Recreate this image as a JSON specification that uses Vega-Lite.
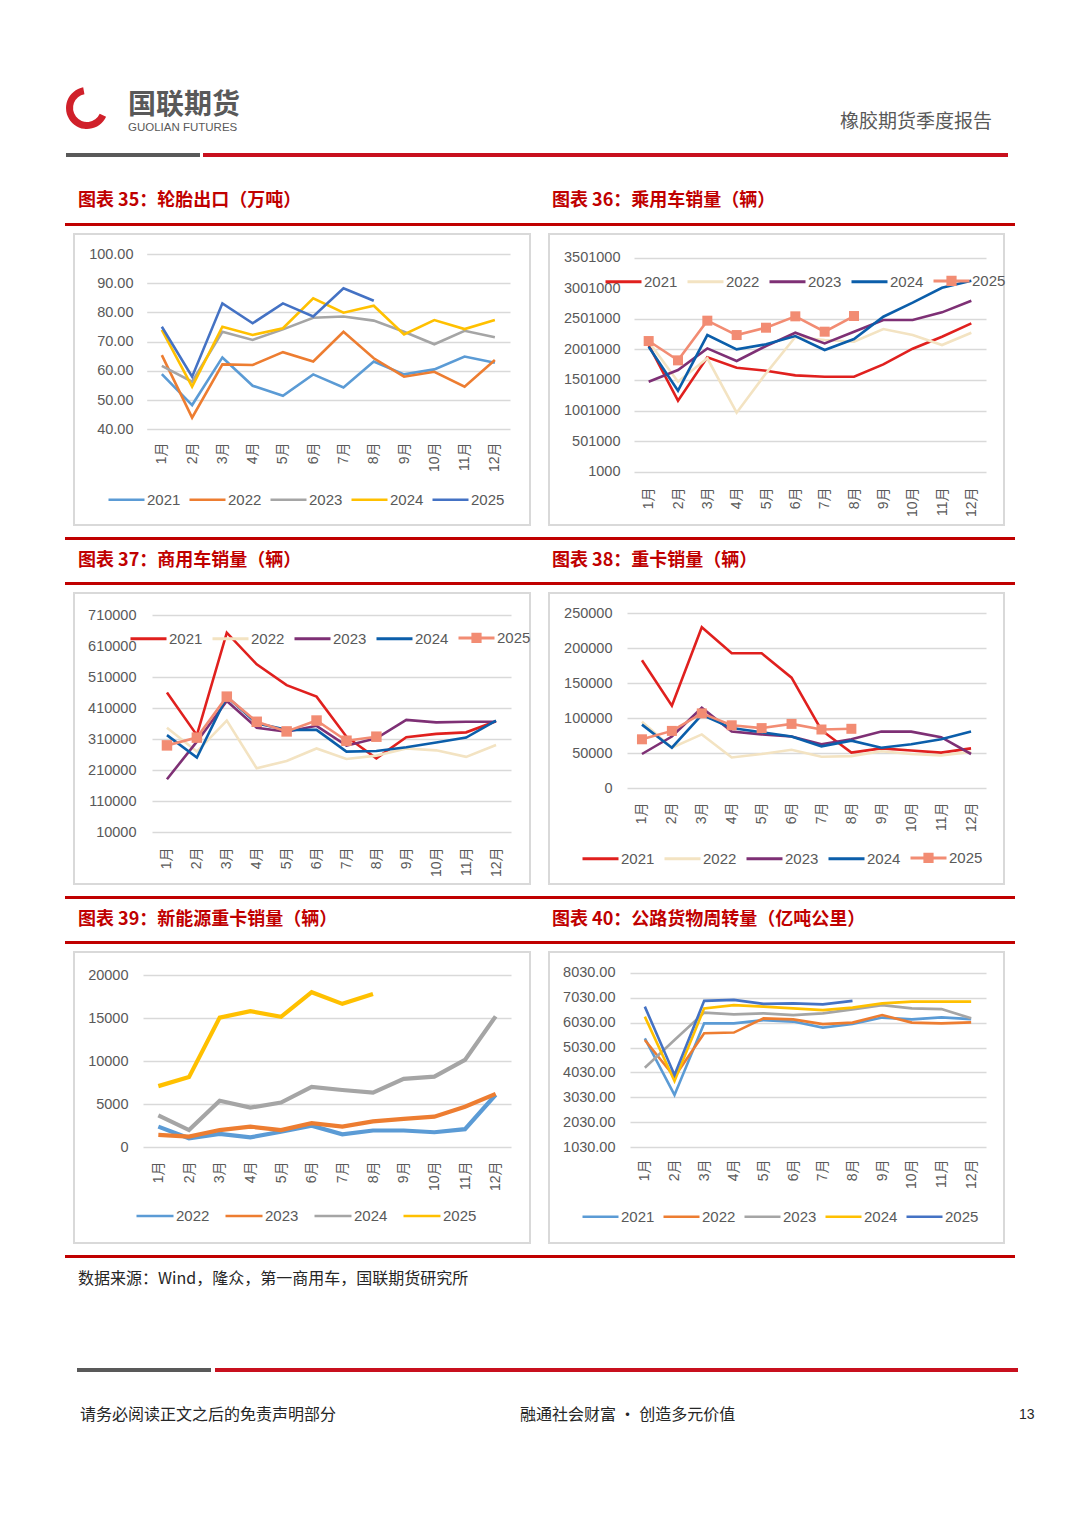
{
"$schema":"https://vega.github.io/schema/vega-lite/v6.json",
"background":"white",
"padding":0,
"autosize":{"type":"pad"},
"spacing":0,
"resolve":{"scale":{"color":"independent","x":"independent","y":"independent"},"legend":{"color":"independent"}},
"config":{
 "view":{"stroke":null},
 "font":"'Liberation Sans','Noto Sans CJK SC',sans-serif",
 "axis":{"domain":false,"ticks":false,"labelColor":"#595959","labelFont":"'Liberation Sans','Noto Sans CJK SC',sans-serif","gridColor":"#d9d9d9","gridWidth":1.3,"labelOverlap":false},
 "axisX":{"grid":false,"labelAngle":-90,"labelPadding":2,"labelFontSize":14},
 "axisY":{"grid":true,"labelPadding":3,"labelFontSize":14.5},
 "legend":{"orient":"none","direction":"horizontal","labelFontSize":15,"labelColor":"#595959","labelFont":"'Liberation Sans',sans-serif","symbolType":"M-1,0H1","symbolStrokeWidth":3,"labelOffset":1,"symbolOpacity":1},
 "line":{"strokeWidth":2.6}
},
"datasets":{
"d35":[
{"m":"1月","y":"2021","v":58.9},{"m":"2月","y":"2021","v":48.3},{"m":"3月","y":"2021","v":64.6},{"m":"4月","y":"2021","v":54.9},{"m":"5月","y":"2021","v":51.5},{"m":"6月","y":"2021","v":58.8},{"m":"7月","y":"2021","v":54.3},{"m":"8月","y":"2021","v":63.2},{"m":"9月","y":"2021","v":58.8},{"m":"10月","y":"2021","v":60.5},{"m":"11月","y":"2021","v":64.9},{"m":"12月","y":"2021","v":62.8},
{"m":"1月","y":"2022","v":65.4},{"m":"2月","y":"2022","v":44.0},{"m":"3月","y":"2022","v":62.2},{"m":"4月","y":"2022","v":62.0},{"m":"5月","y":"2022","v":66.4},{"m":"6月","y":"2022","v":63.2},{"m":"7月","y":"2022","v":73.4},{"m":"8月","y":"2022","v":64.3},{"m":"9月","y":"2022","v":58.0},{"m":"10月","y":"2022","v":59.7},{"m":"11月","y":"2022","v":54.6},{"m":"12月","y":"2022","v":63.7},
{"m":"1月","y":"2023","v":61.7},{"m":"2月","y":"2023","v":56.3},{"m":"3月","y":"2023","v":73.4},{"m":"4月","y":"2023","v":70.6},{"m":"5月","y":"2023","v":74.2},{"m":"6月","y":"2023","v":78.2},{"m":"7月","y":"2023","v":78.6},{"m":"8月","y":"2023","v":77.2},{"m":"9月","y":"2023","v":73.4},{"m":"10月","y":"2023","v":69.1},{"m":"11月","y":"2023","v":73.7},{"m":"12月","y":"2023","v":71.5},
{"m":"1月","y":"2024","v":74.0},{"m":"2月","y":"2024","v":54.6},{"m":"3月","y":"2024","v":75.1},{"m":"4月","y":"2024","v":72.3},{"m":"5月","y":"2024","v":74.6},{"m":"6月","y":"2024","v":84.8},{"m":"7月","y":"2024","v":79.9},{"m":"8月","y":"2024","v":82.3},{"m":"9月","y":"2024","v":72.5},{"m":"10月","y":"2024","v":77.4},{"m":"11月","y":"2024","v":74.3},{"m":"12月","y":"2024","v":77.4},
{"m":"1月","y":"2025","v":75.1},{"m":"2月","y":"2025","v":58.0},{"m":"3月","y":"2025","v":83.1},{"m":"4月","y":"2025","v":76.3},{"m":"5月","y":"2025","v":83.1},{"m":"6月","y":"2025","v":78.6},{"m":"7月","y":"2025","v":88.3},{"m":"8月","y":"2025","v":84.0}
],
"d36":[
{"m":"1月","y":"2021","v":2073000},{"m":"2月","y":"2021","v":1162000},{"m":"3月","y":"2021","v":1871000},{"m":"4月","y":"2021","v":1702000},{"m":"5月","y":"2021","v":1653000},{"m":"6月","y":"2021","v":1577000},{"m":"7月","y":"2021","v":1555000},{"m":"8月","y":"2021","v":1555000},{"m":"9月","y":"2021","v":1756000},{"m":"10月","y":"2021","v":2013000},{"m":"11月","y":"2021","v":2209000},{"m":"12月","y":"2021","v":2427000},
{"m":"1月","y":"2022","v":2127000},{"m":"2月","y":"2022","v":1473000},{"m":"3月","y":"2022","v":1855000},{"m":"4月","y":"2022","v":966000},{"m":"5月","y":"2022","v":1610000},{"m":"6月","y":"2022","v":2204000},{"m":"7月","y":"2022","v":2155000},{"m":"8月","y":"2022","v":2127000},{"m":"9月","y":"2022","v":2334000},{"m":"10月","y":"2022","v":2236000},{"m":"11月","y":"2022","v":2073000},{"m":"12月","y":"2022","v":2274000},
{"m":"1月","y":"2023","v":1473000},{"m":"2月","y":"2023","v":1664000},{"m":"3月","y":"2023","v":2018000},{"m":"4月","y":"2023","v":1811000},{"m":"5月","y":"2023","v":2056000},{"m":"6月","y":"2023","v":2274000},{"m":"7月","y":"2023","v":2100000},{"m":"8月","y":"2023","v":2291000},{"m":"9月","y":"2023","v":2482000},{"m":"10月","y":"2023","v":2482000},{"m":"11月","y":"2023","v":2607000},{"m":"12月","y":"2023","v":2798000},
{"m":"1月","y":"2024","v":2046000},{"m":"2月","y":"2024","v":1326000},{"m":"3月","y":"2024","v":2236000},{"m":"4月","y":"2024","v":2002000},{"m":"5月","y":"2024","v":2084000},{"m":"6月","y":"2024","v":2220000},{"m":"7月","y":"2024","v":1991000},{"m":"8月","y":"2024","v":2171000},{"m":"9月","y":"2024","v":2536000},{"m":"10月","y":"2024","v":2765000},{"m":"11月","y":"2024","v":3010000},{"m":"12月","y":"2024","v":3125000},
{"m":"1月","y":"2025","v":2138000},{"m":"2月","y":"2025","v":1822000},{"m":"3月","y":"2025","v":2471000},{"m":"4月","y":"2025","v":2236000},{"m":"5月","y":"2025","v":2356000},{"m":"6月","y":"2025","v":2542000},{"m":"7月","y":"2025","v":2291000},{"m":"8月","y":"2025","v":2547000}
],
"d37":[
{"m":"1月","y":"2021","v":460000},{"m":"2月","y":"2021","v":323000},{"m":"3月","y":"2021","v":653000},{"m":"4月","y":"2021","v":551000},{"m":"5月","y":"2021","v":484000},{"m":"6月","y":"2021","v":447000},{"m":"7月","y":"2021","v":318000},{"m":"8月","y":"2021","v":248000},{"m":"9月","y":"2021","v":316000},{"m":"10月","y":"2021","v":327000},{"m":"11月","y":"2021","v":332000},{"m":"12月","y":"2021","v":368000},
{"m":"1月","y":"2022","v":347000},{"m":"2月","y":"2022","v":270000},{"m":"3月","y":"2022","v":370000},{"m":"4月","y":"2022","v":216000},{"m":"5月","y":"2022","v":240000},{"m":"6月","y":"2022","v":280000},{"m":"7月","y":"2022","v":246000},{"m":"8月","y":"2022","v":257000},{"m":"9月","y":"2022","v":280000},{"m":"10月","y":"2022","v":274000},{"m":"11月","y":"2022","v":253000},{"m":"12月","y":"2022","v":291000},
{"m":"1月","y":"2023","v":181000},{"m":"2月","y":"2023","v":302000},{"m":"3月","y":"2023","v":433000},{"m":"4月","y":"2023","v":347000},{"m":"5月","y":"2023","v":334000},{"m":"6月","y":"2023","v":353000},{"m":"7月","y":"2023","v":289000},{"m":"8月","y":"2023","v":313000},{"m":"9月","y":"2023","v":372000},{"m":"10月","y":"2023","v":364000},{"m":"11月","y":"2023","v":366000},{"m":"12月","y":"2023","v":366000},
{"m":"1月","y":"2024","v":323000},{"m":"2月","y":"2024","v":251000},{"m":"3月","y":"2024","v":447000},{"m":"4月","y":"2024","v":361000},{"m":"5月","y":"2024","v":340000},{"m":"6月","y":"2024","v":340000},{"m":"7月","y":"2024","v":270000},{"m":"8月","y":"2024","v":272000},{"m":"9月","y":"2024","v":284000},{"m":"10月","y":"2024","v":299000},{"m":"11月","y":"2024","v":315000},{"m":"12月","y":"2024","v":370000},
{"m":"1月","y":"2025","v":290000},{"m":"2月","y":"2025","v":315000},{"m":"3月","y":"2025","v":447000},{"m":"4月","y":"2025","v":366000},{"m":"5月","y":"2025","v":335000},{"m":"6月","y":"2025","v":370000},{"m":"7月","y":"2025","v":305000},{"m":"8月","y":"2025","v":318000}
],
"d38":[
{"m":"1月","y":"2021","v":183000},{"m":"2月","y":"2021","v":118000},{"m":"3月","y":"2021","v":230000},{"m":"4月","y":"2021","v":193000},{"m":"5月","y":"2021","v":193000},{"m":"6月","y":"2021","v":158000},{"m":"7月","y":"2021","v":83000},{"m":"8月","y":"2021","v":51000},{"m":"9月","y":"2021","v":57000},{"m":"10月","y":"2021","v":54000},{"m":"11月","y":"2021","v":51000},{"m":"12月","y":"2021","v":57000},
{"m":"1月","y":"2022","v":95000},{"m":"2月","y":"2022","v":58000},{"m":"3月","y":"2022","v":77000},{"m":"4月","y":"2022","v":44000},{"m":"5月","y":"2022","v":49000},{"m":"6月","y":"2022","v":55000},{"m":"7月","y":"2022","v":45000},{"m":"8月","y":"2022","v":46000},{"m":"9月","y":"2022","v":53000},{"m":"10月","y":"2022","v":49000},{"m":"11月","y":"2022","v":47000},{"m":"12月","y":"2022","v":52000},
{"m":"1月","y":"2023","v":49000},{"m":"2月","y":"2023","v":74000},{"m":"3月","y":"2023","v":115000},{"m":"4月","y":"2023","v":81000},{"m":"5月","y":"2023","v":77000},{"m":"6月","y":"2023","v":74000},{"m":"7月","y":"2023","v":63000},{"m":"8月","y":"2023","v":70000},{"m":"9月","y":"2023","v":81000},{"m":"10月","y":"2023","v":81000},{"m":"11月","y":"2023","v":73000},{"m":"12月","y":"2023","v":49000},
{"m":"1月","y":"2024","v":91000},{"m":"2月","y":"2024","v":58000},{"m":"3月","y":"2024","v":105000},{"m":"4月","y":"2024","v":86000},{"m":"5月","y":"2024","v":80000},{"m":"6月","y":"2024","v":74000},{"m":"7月","y":"2024","v":60000},{"m":"8月","y":"2024","v":68000},{"m":"9月","y":"2024","v":58000},{"m":"10月","y":"2024","v":63000},{"m":"11月","y":"2024","v":70000},{"m":"12月","y":"2024","v":81000},
{"m":"1月","y":"2025","v":70000},{"m":"2月","y":"2025","v":82000},{"m":"3月","y":"2025","v":107000},{"m":"4月","y":"2025","v":90000},{"m":"5月","y":"2025","v":86000},{"m":"6月","y":"2025","v":92000},{"m":"7月","y":"2025","v":84000},{"m":"8月","y":"2025","v":85000}
],
"d39":[
{"m":"1月","y":"2022","v":2400},{"m":"2月","y":"2022","v":1050},{"m":"3月","y":"2022","v":1550},{"m":"4月","y":"2022","v":1150},{"m":"5月","y":"2022","v":1800},{"m":"6月","y":"2022","v":2500},{"m":"7月","y":"2022","v":1500},{"m":"8月","y":"2022","v":1950},{"m":"9月","y":"2022","v":1950},{"m":"10月","y":"2022","v":1750},{"m":"11月","y":"2022","v":2100},{"m":"12月","y":"2022","v":6100},
{"m":"1月","y":"2023","v":1450},{"m":"2月","y":"2023","v":1250},{"m":"3月","y":"2023","v":2000},{"m":"4月","y":"2023","v":2400},{"m":"5月","y":"2023","v":2000},{"m":"6月","y":"2023","v":2800},{"m":"7月","y":"2023","v":2400},{"m":"8月","y":"2023","v":3000},{"m":"9月","y":"2023","v":3300},{"m":"10月","y":"2023","v":3550},{"m":"11月","y":"2023","v":4700},{"m":"12月","y":"2023","v":6200},
{"m":"1月","y":"2024","v":3700},{"m":"2月","y":"2024","v":2000},{"m":"3月","y":"2024","v":5400},{"m":"4月","y":"2024","v":4600},{"m":"5月","y":"2024","v":5200},{"m":"6月","y":"2024","v":7000},{"m":"7月","y":"2024","v":6650},{"m":"8月","y":"2024","v":6350},{"m":"9月","y":"2024","v":7950},{"m":"10月","y":"2024","v":8200},{"m":"11月","y":"2024","v":10150},{"m":"12月","y":"2024","v":15200},
{"m":"1月","y":"2025","v":7100},{"m":"2月","y":"2025","v":8150},{"m":"3月","y":"2025","v":15050},{"m":"4月","y":"2025","v":15800},{"m":"5月","y":"2025","v":15150},{"m":"6月","y":"2025","v":18000},{"m":"7月","y":"2025","v":16650},{"m":"8月","y":"2025","v":17800}
],
"d40":[
{"m":"1月","y":"2021","v":5400},{"m":"2月","y":"2021","v":3130},{"m":"3月","y":"2021","v":6000},{"m":"4月","y":"2021","v":6000},{"m":"5月","y":"2021","v":6130},{"m":"6月","y":"2021","v":6070},{"m":"7月","y":"2021","v":5830},{"m":"8月","y":"2021","v":5970},{"m":"9月","y":"2021","v":6230},{"m":"10月","y":"2021","v":6160},{"m":"11月","y":"2021","v":6240},{"m":"12月","y":"2021","v":6170},
{"m":"1月","y":"2022","v":5330},{"m":"2月","y":"2022","v":3860},{"m":"3月","y":"2022","v":5600},{"m":"4月","y":"2022","v":5630},{"m":"5月","y":"2022","v":6200},{"m":"6月","y":"2022","v":6160},{"m":"7月","y":"2022","v":5970},{"m":"8月","y":"2022","v":6030},{"m":"9月","y":"2022","v":6330},{"m":"10月","y":"2022","v":6030},{"m":"11月","y":"2022","v":6000},{"m":"12月","y":"2022","v":6040},
{"m":"1月","y":"2023","v":4220},{"m":"2月","y":"2023","v":5330},{"m":"3月","y":"2023","v":6430},{"m":"4月","y":"2023","v":6360},{"m":"5月","y":"2023","v":6400},{"m":"6月","y":"2023","v":6330},{"m":"7月","y":"2023","v":6400},{"m":"8月","y":"2023","v":6560},{"m":"9月","y":"2023","v":6730},{"m":"10月","y":"2023","v":6600},{"m":"11月","y":"2023","v":6570},{"m":"12月","y":"2023","v":6200},
{"m":"1月","y":"2024","v":6270},{"m":"2月","y":"2024","v":3690},{"m":"3月","y":"2024","v":6600},{"m":"4月","y":"2024","v":6730},{"m":"5月","y":"2024","v":6670},{"m":"6月","y":"2024","v":6600},{"m":"7月","y":"2024","v":6530},{"m":"8月","y":"2024","v":6630},{"m":"9月","y":"2024","v":6800},{"m":"10月","y":"2024","v":6870},{"m":"11月","y":"2024","v":6870},{"m":"12月","y":"2024","v":6870},
{"m":"1月","y":"2025","v":6670},{"m":"2月","y":"2025","v":3930},{"m":"3月","y":"2025","v":6900},{"m":"4月","y":"2025","v":6940},{"m":"5月","y":"2025","v":6780},{"m":"6月","y":"2025","v":6800},{"m":"7月","y":"2025","v":6760},{"m":"8月","y":"2025","v":6900}
]
},
"vconcat":[
{"width":1080,"height":82,"data":{"values":[{}]},"mark":{"type":"text","text":"","fontSize":1},"encoding":{},"view":{"fill":"white","stroke":null}},
{"hconcat":[
 {"width":65,"height":52,"data":{"values":[{}]},"mark":{"type":"text","text":"","fontSize":1},"encoding":{}},
 {"width":44,"height":52,"data":{"values":[{}]},"mark":{"type":"arc","theta":2.0,"theta2":6.1,"innerRadius":14,"outerRadius":21,"color":"#d0202a"},"encoding":{}},
 {"width":18,"height":52,"data":{"values":[{}]},"mark":{"type":"text","text":"","fontSize":1},"encoding":{}},
 {"width":2,"height":52,"data":{"values":[{}]},"layer":[
   {"mark":{"type":"text","text":"国联期货","align":"left","baseline":"middle","font":"Noto Sans CJK SC","fontSize":28,"fontWeight":"bold","color":"#595959","dy":-2},"encoding":{}},
   {"mark":{"type":"text","text":"GUOLIAN FUTURES","align":"left","baseline":"middle","font":"Liberation Sans","fontSize":11.5,"color":"#595959","dy":20},"encoding":{}}
 ]},
 {"width":710,"height":52,"data":{"values":[{}]},"mark":{"type":"text","text":"","fontSize":1},"encoding":{}},
 {"width":2,"height":52,"data":{"values":[{}]},"mark":{"type":"text","text":"橡胶期货季度报告","align":"left","baseline":"middle","font":"Noto Sans CJK SC","fontSize":19,"color":"#595959","dy":14},"encoding":{}}
],"spacing":0,"bounds":"flush"},
{"width":10,"height":19,"data":{"values":[{}]},"mark":{"type":"text","text":"","fontSize":1},"encoding":{}},
{"hconcat":[
 {"width":66,"height":4,"data":{"values":[{}]},"mark":{"type":"text","text":"","fontSize":1},"encoding":{}},
 {"width":134,"height":4,"data":{"values":[{}]},"mark":{"type":"text","text":"","fontSize":1},"encoding":{},"view":{"fill":"#595959","stroke":null}},
 {"width":3,"height":4,"data":{"values":[{}]},"mark":{"type":"text","text":"","fontSize":1},"encoding":{}},
 {"width":805,"height":4,"data":{"values":[{}]},"mark":{"type":"text","text":"","fontSize":1},"encoding":{},"view":{"fill":"#c8101e","stroke":null}}
],"spacing":0,"bounds":"flush"},
{"width":10,"height":32,"data":{"values":[{}]},"mark":{"type":"text","text":"","fontSize":1},"encoding":{}},
{"hconcat":[
 {"width":77,"height":24,"data":{"values":[{}]},"mark":{"type":"text","text":"","fontSize":1},"encoding":{}},
 {"width":2,"height":24,"data":{"values":[{}]},"mark":{"type":"text","text":"图表 35：轮胎出口（万吨）","align":"left","baseline":"middle","font":"Noto Sans CJK SC","fontSize":18,"fontWeight":"bold","color":"#c00000"},"encoding":{}},
 {"width":472,"height":24,"data":{"values":[{}]},"mark":{"type":"text","text":"","fontSize":1},"encoding":{}},
 {"width":2,"height":24,"data":{"values":[{}]},"mark":{"type":"text","text":"图表 36：乘用车销量（辆）","align":"left","baseline":"middle","font":"Noto Sans CJK SC","fontSize":18,"fontWeight":"bold","color":"#c00000"},"encoding":{}}
],"spacing":0,"bounds":"flush"},
{"width":10,"height":10,"data":{"values":[{}]},"mark":{"type":"text","text":"","fontSize":1},"encoding":{}},
{"hconcat":[
 {"width":65,"height":3,"data":{"values":[{}]},"mark":{"type":"text","text":"","fontSize":1},"encoding":{}},
 {"width":950,"height":3,"data":{"values":[{}]},"mark":{"type":"text","text":"","fontSize":1},"encoding":{},"view":{"fill":"#c00000","stroke":null}}
],"spacing":0,"bounds":"flush"},
{"width":10,"height":7,"data":{"values":[{}]},"mark":{"type":"text","text":"","fontSize":1},"encoding":{}},
{"hconcat":[
 {"width":74,"height":291,"data":{"values":[{}]},"mark":{"type":"text","text":"","fontSize":1},"encoding":{}},
 {"width":456,"height":291,"view":{"stroke":"#d9d9d9","strokeWidth":2},"data":{"name":"d35"},
  "mark":{"type":"line"},
  "encoding":{
   "x":{"field":"m","type":"ordinal","title":null,"scale":{"type":"point","domain":["1月","2月","3月","4月","5月","6月","7月","8月","9月","10月","11月","12月"],"range":[72.7,436],"padding":0.5},"axis":{"offset":-85}},
   "y":{"field":"v","type":"quantitative","title":null,"scale":{"domain":[40,100],"range":[195.3,20],"nice":false,"zero":false},"axis":{"values":[40,50,60,70,80,90,100],"format":".2f","offset":-62}},
   "color":{"field":"y","type":"nominal","scale":{"domain":["2021","2022","2023","2024","2025"],"range":["#5B9BD5","#ED7D31","#A5A5A5","#FFC000","#4472C4"]},
     "legend":{"legendX":33,"legendY":246,"columns":5,"title":null,"symbolSize":1296,"columnPadding":3,"encode":{"symbols":{"update":{"strokeWidth":{"signal":"datum.value === '2025' ? 4.5 : 2.6"}}}}}},
   "strokeWidth":{"condition":{"test":"datum.y === '2025'","value":4.5},"value":2.6}
  }},
 {"width":19,"height":291,"data":{"values":[{}]},"mark":{"type":"text","text":"","fontSize":1},"encoding":{}},
 {"width":455,"height":291,"view":{"stroke":"#d9d9d9","strokeWidth":2},"data":{"name":"d36"},
  "encoding":{
   "x":{"field":"m","type":"ordinal","title":null,"scale":{"type":"point","domain":["1月","2月","3月","4月","5月","6月","7月","8月","9月","10月","11月","12月"],"range":[85,437],"padding":0.5},"axis":{"offset":-40}},
   "y":{"field":"v","type":"quantitative","title":null,"scale":{"domain":[1000,3501000],"range":[237.7,23.7],"nice":false,"zero":false},"axis":{"values":[1000,501000,1001000,1501000,2001000,2501000,3001000,3501000],"format":"d","offset":-74,"gridOpacity":{"condition":{"test":"datum.value === 3001000","value":0},"value":1}}},
   "color":{"field":"y","type":"nominal","scale":{"domain":["2021","2022","2023","2024","2025"],"range":["#E0201E","#F3E3C2","#7E3075","#0B5EAA","#F28C73"]},
     "legend":{"legendX":55,"legendY":27,"columns":5,"title":null,"symbolSize":1296,"columnPadding":3,
       "encode":{"symbols":{"update":{"shape":{"signal":"datum.value === '2025' ? 'M-1,0H1M-0.2,-0.2H0.2V0.2H-0.2Z' : 'M-1,0H1'"},"fill":{"signal":"datum.value === '2025' ? '#F28C73' : 'transparent'"},"stroke":{"signal":"{'2021':'#E0201E','2022':'#F3E3C2','2023':'#7E3075','2024':'#0B5EAA','2025':'#F28C73'}[datum.value]"},"strokeWidth":{"value":3},"opacity":{"value":1}}}}}},
   "strokeWidth":{"condition":{"test":"datum.y === '2025'","value":3.6},"value":2.8}
  },
  "layer":[
   {"mark":{"type":"line"}},
   {"transform":[{"filter":"datum.y === '2025'"}],"mark":{"type":"point","shape":"square","filled":true,"size":100,"opacity":1}}
  ]}
],"spacing":0,"bounds":"flush","resolve":{"scale":{"color":"independent","x":"independent","y":"independent"},"legend":{"color":"independent"}}},
{"width":10,"height":11,"data":{"values":[{}]},"mark":{"type":"text","text":"","fontSize":1},"encoding":{}},
{"hconcat":[
 {"width":65,"height":3,"data":{"values":[{}]},"mark":{"type":"text","text":"","fontSize":1},"encoding":{}},
 {"width":950,"height":3,"data":{"values":[{}]},"mark":{"type":"text","text":"","fontSize":1},"encoding":{},"view":{"fill":"#c00000","stroke":null}}
],"spacing":0,"bounds":"flush"},
{"width":10,"height":9,"data":{"values":[{}]},"mark":{"type":"text","text":"","fontSize":1},"encoding":{}},
{"hconcat":[
 {"width":77,"height":24,"data":{"values":[{}]},"mark":{"type":"text","text":"","fontSize":1},"encoding":{}},
 {"width":2,"height":24,"data":{"values":[{}]},"mark":{"type":"text","text":"图表 37：商用车销量（辆）","align":"left","baseline":"middle","font":"Noto Sans CJK SC","fontSize":18,"fontWeight":"bold","color":"#c00000"},"encoding":{}},
 {"width":472,"height":24,"data":{"values":[{}]},"mark":{"type":"text","text":"","fontSize":1},"encoding":{}},
 {"width":2,"height":24,"data":{"values":[{}]},"mark":{"type":"text","text":"图表 38：重卡销量（辆）","align":"left","baseline":"middle","font":"Noto Sans CJK SC","fontSize":18,"fontWeight":"bold","color":"#c00000"},"encoding":{}}
],"spacing":0,"bounds":"flush"},
{"width":10,"height":9,"data":{"values":[{}]},"mark":{"type":"text","text":"","fontSize":1},"encoding":{}},
{"hconcat":[
 {"width":65,"height":3,"data":{"values":[{}]},"mark":{"type":"text","text":"","fontSize":1},"encoding":{}},
 {"width":950,"height":3,"data":{"values":[{}]},"mark":{"type":"text","text":"","fontSize":1},"encoding":{},"view":{"fill":"#c00000","stroke":null}}
],"spacing":0,"bounds":"flush"},
{"width":10,"height":7,"data":{"values":[{}]},"mark":{"type":"text","text":"","fontSize":1},"encoding":{}},
{"hconcat":[
 {"width":74,"height":291,"data":{"values":[{}]},"mark":{"type":"text","text":"","fontSize":1},"encoding":{}},
 {"width":456,"height":291,"view":{"stroke":"#d9d9d9","strokeWidth":2},"data":{"name":"d37"},
  "encoding":{
   "x":{"field":"m","type":"ordinal","title":null,"scale":{"type":"point","domain":["1月","2月","3月","4月","5月","6月","7月","8月","9月","10月","11月","12月"],"range":[78,437],"padding":0.5},"axis":{"offset":-39}},
   "y":{"field":"v","type":"quantitative","title":null,"scale":{"domain":[10000,710000],"range":[239.3,22],"nice":false,"zero":false},"axis":{"values":[10000,110000,210000,310000,410000,510000,610000,710000],"format":"d","offset":-65,"gridOpacity":{"condition":{"test":"datum.value === 610000","value":0},"value":1}}},
   "color":{"field":"y","type":"nominal","scale":{"domain":["2021","2022","2023","2024","2025"],"range":["#E0201E","#F3E3C2","#7E3075","#0B5EAA","#F28C73"]},
     "legend":{"legendX":55,"legendY":25,"columns":5,"title":null,"symbolSize":1296,"columnPadding":3,
       "encode":{"symbols":{"update":{"shape":{"signal":"datum.value === '2025' ? 'M-1,0H1M-0.2,-0.2H0.2V0.2H-0.2Z' : 'M-1,0H1'"},"fill":{"signal":"datum.value === '2025' ? '#F28C73' : 'transparent'"},"stroke":{"signal":"{'2021':'#E0201E','2022':'#F3E3C2','2023':'#7E3075','2024':'#0B5EAA','2025':'#F28C73'}[datum.value]"},"strokeWidth":{"value":3},"opacity":{"value":1}}}}}},
   "strokeWidth":{"condition":{"test":"datum.y === '2025'","value":3.6},"value":2.8}
  },
  "layer":[
   {"mark":{"type":"line"}},
   {"transform":[{"filter":"datum.y === '2025'"}],"mark":{"type":"point","shape":"square","filled":true,"size":110,"opacity":1}}
  ]},
 {"width":19,"height":291,"data":{"values":[{}]},"mark":{"type":"text","text":"","fontSize":1},"encoding":{}},
 {"width":455,"height":291,"view":{"stroke":"#d9d9d9","strokeWidth":2},"data":{"name":"d38"},
  "encoding":{
   "x":{"field":"m","type":"ordinal","title":null,"scale":{"type":"point","domain":["1月","2月","3月","4月","5月","6月","7月","8月","9月","10月","11月","12月"],"range":[78,437],"padding":0.5},"axis":{"offset":-84}},
   "y":{"field":"v","type":"quantitative","title":null,"scale":{"domain":[0,250000],"range":[195.3,20.3],"nice":false,"zero":false},"axis":{"values":[0,50000,100000,150000,200000,250000],"format":"d","offset":-66}},
   "color":{"field":"y","type":"nominal","scale":{"domain":["2021","2022","2023","2024","2025"],"range":["#E0201E","#F3E3C2","#7E3075","#0B5EAA","#F28C73"]},
     "legend":{"legendX":32,"legendY":245,"columns":5,"title":null,"symbolSize":1296,"columnPadding":3,
       "encode":{"symbols":{"update":{"shape":{"signal":"datum.value === '2025' ? 'M-1,0H1M-0.2,-0.2H0.2V0.2H-0.2Z' : 'M-1,0H1'"},"fill":{"signal":"datum.value === '2025' ? '#F28C73' : 'transparent'"},"stroke":{"signal":"{'2021':'#E0201E','2022':'#F3E3C2','2023':'#7E3075','2024':'#0B5EAA','2025':'#F28C73'}[datum.value]"},"strokeWidth":{"value":3},"opacity":{"value":1}}}}}},
   "strokeWidth":{"condition":{"test":"datum.y === '2025'","value":3.6},"value":2.8}
  },
  "layer":[
   {"mark":{"type":"line"}},
   {"transform":[{"filter":"datum.y === '2025'"}],"mark":{"type":"point","shape":"square","filled":true,"size":100,"opacity":1}}
  ]}
],"spacing":0,"bounds":"flush","resolve":{"scale":{"color":"independent","x":"independent","y":"independent"},"legend":{"color":"independent"}}},
{"width":10,"height":11,"data":{"values":[{}]},"mark":{"type":"text","text":"","fontSize":1},"encoding":{}},
{"hconcat":[
 {"width":65,"height":3,"data":{"values":[{}]},"mark":{"type":"text","text":"","fontSize":1},"encoding":{}},
 {"width":950,"height":3,"data":{"values":[{}]},"mark":{"type":"text","text":"","fontSize":1},"encoding":{},"view":{"fill":"#c00000","stroke":null}}
],"spacing":0,"bounds":"flush"},
{"width":10,"height":9,"data":{"values":[{}]},"mark":{"type":"text","text":"","fontSize":1},"encoding":{}},
{"hconcat":[
 {"width":77,"height":24,"data":{"values":[{}]},"mark":{"type":"text","text":"","fontSize":1},"encoding":{}},
 {"width":2,"height":24,"data":{"values":[{}]},"mark":{"type":"text","text":"图表 39：新能源重卡销量（辆）","align":"left","baseline":"middle","font":"Noto Sans CJK SC","fontSize":18,"fontWeight":"bold","color":"#c00000"},"encoding":{}},
 {"width":472,"height":24,"data":{"values":[{}]},"mark":{"type":"text","text":"","fontSize":1},"encoding":{}},
 {"width":2,"height":24,"data":{"values":[{}]},"mark":{"type":"text","text":"图表 40：公路货物周转量（亿吨公里）","align":"left","baseline":"middle","font":"Noto Sans CJK SC","fontSize":18,"fontWeight":"bold","color":"#c00000"},"encoding":{}}
],"spacing":0,"bounds":"flush"},
{"width":10,"height":9,"data":{"values":[{}]},"mark":{"type":"text","text":"","fontSize":1},"encoding":{}},
{"hconcat":[
 {"width":65,"height":3,"data":{"values":[{}]},"mark":{"type":"text","text":"","fontSize":1},"encoding":{}},
 {"width":950,"height":3,"data":{"values":[{}]},"mark":{"type":"text","text":"","fontSize":1},"encoding":{},"view":{"fill":"#c00000","stroke":null}}
],"spacing":0,"bounds":"flush"},
{"width":10,"height":7,"data":{"values":[{}]},"mark":{"type":"text","text":"","fontSize":1},"encoding":{}},
{"hconcat":[
 {"width":74,"height":291,"data":{"values":[{}]},"mark":{"type":"text","text":"","fontSize":1},"encoding":{}},
 {"width":456,"height":291,"view":{"stroke":"#d9d9d9","strokeWidth":2},"data":{"name":"d39"},
  "mark":{"type":"line","strokeWidth":4.2},
  "encoding":{
   "x":{"field":"m","type":"ordinal","title":null,"scale":{"type":"point","domain":["1月","2月","3月","4月","5月","6月","7月","8月","9月","10月","11月","12月"],"range":[69,437],"padding":0.5},"axis":{"offset":-84}},
   "y":{"field":"v","type":"quantitative","title":null,"scale":{"domain":[0,20000],"range":[195.3,23],"nice":false,"zero":false},"axis":{"values":[0,5000,10000,15000,20000],"format":"d","offset":-57}},
   "color":{"field":"y","type":"nominal","scale":{"domain":["2022","2023","2024","2025"],"range":["#5B9BD5","#ED7D31","#A5A5A5","#FFC000"]},
     "legend":{"legendX":61,"legendY":244,"columns":4,"title":null,"symbolSize":1369,"columnPadding":10,"symbolStrokeWidth":5}}
  }},
 {"width":19,"height":291,"data":{"values":[{}]},"mark":{"type":"text","text":"","fontSize":1},"encoding":{}},
 {"width":455,"height":291,"view":{"stroke":"#d9d9d9","strokeWidth":2},"data":{"name":"d40"},
  "mark":{"type":"line","strokeWidth":2.6},
  "encoding":{
   "x":{"field":"m","type":"ordinal","title":null,"scale":{"type":"point","domain":["1月","2月","3月","4月","5月","6月","7月","8月","9月","10月","11月","12月"],"range":[81,437],"padding":0.5},"axis":{"offset":-86}},
   "y":{"field":"v","type":"quantitative","title":null,"scale":{"domain":[1030,8030],"range":[195.3,20.7],"nice":false,"zero":false},"axis":{"values":[1030,2030,3030,4030,5030,6030,7030,8030],"format":".2f","offset":-69}},
   "color":{"field":"y","type":"nominal","scale":{"domain":["2021","2022","2023","2024","2025"],"range":["#5B9BD5","#ED7D31","#A5A5A5","#FFC000","#4472C4"]},
     "legend":{"legendX":32,"legendY":245,"columns":5,"title":null,"symbolSize":1296,"columnPadding":3}}
  }}
],"spacing":0,"bounds":"flush","resolve":{"scale":{"color":"independent","x":"independent","y":"independent"},"legend":{"color":"independent"}}},
{"width":10,"height":11,"data":{"values":[{}]},"mark":{"type":"text","text":"","fontSize":1},"encoding":{}},
{"hconcat":[
 {"width":65,"height":3,"data":{"values":[{}]},"mark":{"type":"text","text":"","fontSize":1},"encoding":{}},
 {"width":950,"height":3,"data":{"values":[{}]},"mark":{"type":"text","text":"","fontSize":1},"encoding":{},"view":{"fill":"#c00000","stroke":null}}
],"spacing":0,"bounds":"flush"},
{"width":10,"height":9,"data":{"values":[{}]},"mark":{"type":"text","text":"","fontSize":1},"encoding":{}},
{"hconcat":[
 {"width":77,"height":24,"data":{"values":[{}]},"mark":{"type":"text","text":"","fontSize":1},"encoding":{}},
 {"width":2,"height":24,"data":{"values":[{}]},"mark":{"type":"text","text":"数据来源：Wind，隆众，第一商用车，国联期货研究所","align":"left","baseline":"middle","font":"Noto Sans CJK SC","fontSize":16,"color":"#262626"},"encoding":{}}
],"spacing":0,"bounds":"flush"},
{"width":10,"height":77,"data":{"values":[{}]},"mark":{"type":"text","text":"","fontSize":1},"encoding":{}},
{"hconcat":[
 {"width":77,"height":4,"data":{"values":[{}]},"mark":{"type":"text","text":"","fontSize":1},"encoding":{}},
 {"width":134,"height":4,"data":{"values":[{}]},"mark":{"type":"text","text":"","fontSize":1},"encoding":{},"view":{"fill":"#595959","stroke":null}},
 {"width":4,"height":4,"data":{"values":[{}]},"mark":{"type":"text","text":"","fontSize":1},"encoding":{}},
 {"width":803,"height":4,"data":{"values":[{}]},"mark":{"type":"text","text":"","fontSize":1},"encoding":{},"view":{"fill":"#c8101e","stroke":null}}
],"spacing":0,"bounds":"flush"},
{"width":10,"height":31,"data":{"values":[{}]},"mark":{"type":"text","text":"","fontSize":1},"encoding":{}},
{"hconcat":[
 {"width":79,"height":24,"data":{"values":[{}]},"mark":{"type":"text","text":"","fontSize":1},"encoding":{}},
 {"width":2,"height":24,"data":{"values":[{}]},"mark":{"type":"text","text":"请务必阅读正文之后的免责声明部分","align":"left","baseline":"middle","font":"Noto Sans CJK SC","fontSize":16,"color":"#262626"},"encoding":{}},
 {"width":438,"height":24,"data":{"values":[{}]},"mark":{"type":"text","text":"","fontSize":1},"encoding":{}},
 {"width":2,"height":24,"data":{"values":[{}]},"mark":{"type":"text","text":"融通社会财富 • 创造多元价值","align":"left","baseline":"middle","font":"Noto Sans CJK SC","fontSize":16,"color":"#262626"},"encoding":{}},
 {"width":497,"height":24,"data":{"values":[{}]},"mark":{"type":"text","text":"","fontSize":1},"encoding":{}},
 {"width":2,"height":24,"data":{"values":[{}]},"mark":{"type":"text","text":"13","align":"left","baseline":"middle","font":"Liberation Sans","fontSize":14,"color":"#262626"},"encoding":{}}
],"spacing":0,"bounds":"flush"},
{"width":1080,"height":100,"data":{"values":[{}]},"mark":{"type":"text","text":"","fontSize":1},"encoding":{},"view":{"fill":"white","stroke":null}}
]
}
